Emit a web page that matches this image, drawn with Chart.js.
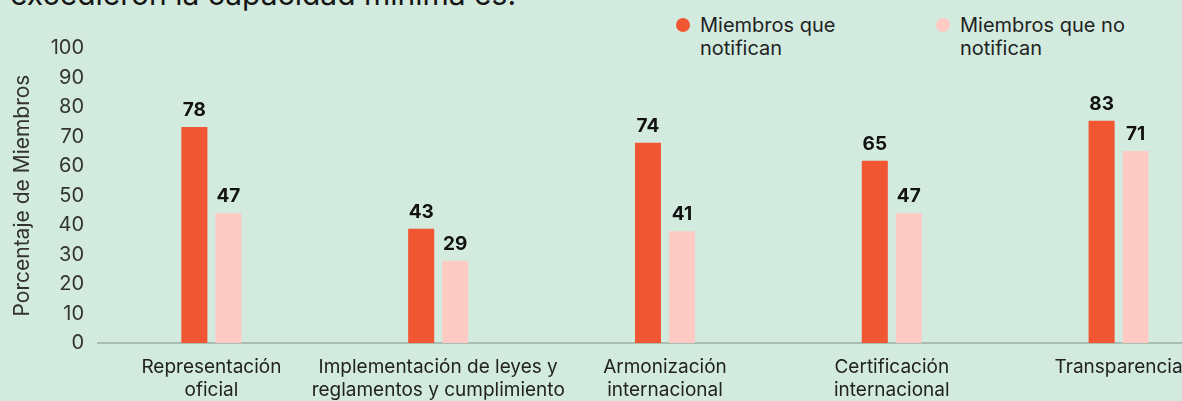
<!DOCTYPE html>
<html>
<head>
<meta charset="utf-8">
<script src="https://cdn.jsdelivr.net/npm/chart.js@4.4.1/dist/chart.umd.min.js"></script>
<style>
  html, body { margin: 0; padding: 0; background: #d3ebdf; }
  #wrap { position: relative; width: 1182px; height: 401px; overflow: hidden; background: #d3ebdf; font-family: Inter, "Liberation Sans", sans-serif; }
  #title { position: absolute; left: 10px; top: -21px; font-size: 30px; line-height: 30px; color: #151515; white-space: nowrap; }
  .leg { position: absolute; top: 14px; font-size: 20px; line-height: 23px; color: #222; }
  .leg .dot { position: absolute; left: -24px; top: 4px; width: 14px; height: 14px; border-radius: 50%; }
  #box { position: absolute; left: 0; top: 0; width: 1236px; height: 410px; }
</style>
</head>
<body>
<div id="wrap">
  <div id="title">excedieron la capacidad mínima es:</div>
  <div class="leg" style="left:700px"><span class="dot" style="background:#f05632"></span>Miembros que<br>notifican</div>
  <div class="leg" style="left:960px"><span class="dot" style="background:#fdcbc3"></span>Miembros que no<br>notifican</div>
  <div id="box"><canvas id="chart"></canvas></div>
</div>
<script>
// categories (two-line labels as drawn)
const categories = [
  ['Representación', 'oficial'],
  ['Implementación de leyes y', 'reglamentos y cumplimiento'],
  ['Armonización', 'internacional'],
  ['Certificación', 'internacional'],
  ['Transparencia']
];

// printed values above the bars
const notificanLabels = [78, 43, 74, 65, 83];
const noNotificanLabels = [47, 29, 41, 47, 71];

// bar heights as drawn in the picture (they sit a little below the printed numbers)
const notificanBars = [73.2, 38.7, 67.9, 61.8, 75.3];
const noNotificanBars = [44.0, 27.9, 37.9, 44.0, 65.1];

const yTicks = [0, 10, 20, 30, 40, 50, 60, 70, 80, 90, 100];

const ORANGE = '#f05632';
const PINK = '#fdcbc3';
const FONT = 'Inter, "Liberation Sans", sans-serif';

// draws the numbers above each bar
const valueLabels = {
  id: 'valueLabels',
  afterDatasetsDraw(chart) {
    const ctx = chart.ctx;
    ctx.save();
    ctx.font = 'bold 19px ' + FONT;
    ctx.fillStyle = '#111';
    ctx.textAlign = 'center';
    ctx.textBaseline = 'bottom';
    chart.data.datasets.forEach((ds, di) => {
      const meta = chart.getDatasetMeta(di);
      meta.data.forEach((bar, i) => {
        ctx.fillText(String(ds.printed[i]), bar.x, bar.y - 7);
      });
    });
    ctx.restore();
  }
};

new Chart(document.getElementById('chart'), {
  type: 'bar',
  data: {
    labels: categories,
    datasets: [
      {
        label: 'Miembros que notifican',
        data: notificanBars,
        printed: notificanLabels,
        backgroundColor: ORANGE,
        categoryPercentage: 0.3,
        barPercentage: 0.765
      },
      {
        label: 'Miembros que no notifican',
        data: noNotificanBars,
        printed: noNotificanLabels,
        backgroundColor: PINK,
        categoryPercentage: 0.3,
        barPercentage: 0.765
      }
    ]
  },
  options: {
    responsive: true,
    maintainAspectRatio: false,
    animation: false,
    layout: { padding: { top: 48, right: 4, left: 0, bottom: 0 } },
    plugins: {
      legend: { display: false },
      tooltip: { enabled: false }
    },
    scales: {
      x: {
        grid: { display: false, drawTicks: false },
        border: { display: true, color: '#a9bdb1', width: 2 },
        ticks: {
          color: '#222',
          padding: 13,
          maxRotation: 0,
          autoSkip: false,
          font: { family: FONT, size: 19, lineHeight: 1.21 }
        },
        afterFit(scale) { scale.height = 67; }
      },
      y: {
        min: 0,
        max: 100,
        afterBuildTicks(axis) { axis.ticks = yTicks.map(v => ({ value: v })); },
        grid: { display: false, drawTicks: false },
        border: { display: false },
        ticks: {
          color: '#333',
          padding: 14,
          font: { family: FONT, size: 20 }
        },
        title: {
          display: true,
          text: 'Porcentaje de Miembros',
          color: '#333',
          padding: { top: 10, bottom: 0 },
          font: { family: FONT, size: 21 }
        },
        afterFit(scale) { scale.width = 98; }
      }
    }
  },
  plugins: [valueLabels]
});
</script>
</body>
</html>
